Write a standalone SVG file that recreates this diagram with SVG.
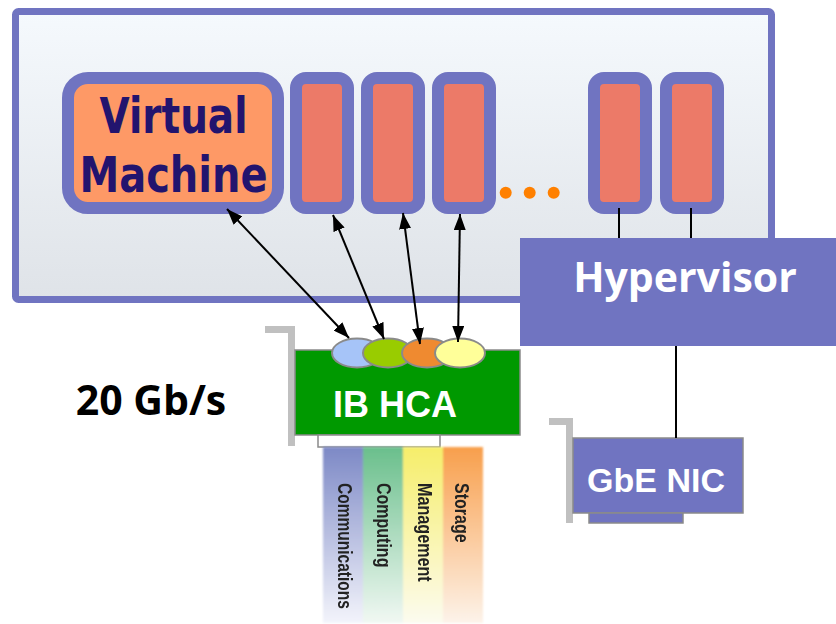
<svg xmlns="http://www.w3.org/2000/svg" width="836" height="624" viewBox="0 0 836 624">
<defs>
<linearGradient id="bg" x1="0" y1="0" x2="0" y2="1">
<stop offset="0" stop-color="#f5f9fd"/><stop offset="1" stop-color="#dfe3e8"/>
</linearGradient>
<linearGradient id="gB" x1="0" y1="0" x2="0" y2="1"><stop offset="0" stop-color="#7d89c6"/><stop offset="1" stop-color="#f3f4fb"/></linearGradient>
<linearGradient id="gG" x1="0" y1="0" x2="0" y2="1"><stop offset="0" stop-color="#6abf8c"/><stop offset="1" stop-color="#f1f8f3"/></linearGradient>
<linearGradient id="gY" x1="0" y1="0" x2="0" y2="1"><stop offset="0" stop-color="#f6ee6a"/><stop offset="1" stop-color="#fcfbef"/></linearGradient>
<linearGradient id="gO" x1="0" y1="0" x2="0" y2="1"><stop offset="0" stop-color="#f89f4c"/><stop offset="1" stop-color="#fdf3ea"/></linearGradient>
<filter id="blur" x="-5%" y="-5%" width="110%" height="110%"><feGaussianBlur stdDeviation="1.3"/></filter>
<filter id="tblur"><feGaussianBlur stdDeviation="0.6"/></filter>
<marker id="ah" viewBox="0 0 16 12" refX="16" refY="6" markerWidth="16" markerHeight="12" markerUnits="userSpaceOnUse" orient="auto-start-reverse">
<path d="M0,0 L16,6 L0,12 z" fill="#000"/>
</marker>
</defs>
<style>
.vm{fill:#ec7a68;stroke:#7074c1;stroke-width:12}
.card{stroke:#8a8a8a;stroke-width:1.5}
.brk{fill:#c0c0c0}
.lab{font-family:"Liberation Sans",Arial,sans-serif;font-weight:bold;fill:#fff}
.hum{font-family:"Open Sans","DejaVu Sans",sans-serif;font-weight:bold}
.vmt{font-family:"DejaVu Sans",sans-serif;font-weight:bold;font-size:49px;fill:#22146e}
.band{font-family:"Liberation Sans",Arial,sans-serif;font-weight:bold;font-size:16px;fill:#222}
.conn{stroke:#000;stroke-width:2;fill:none}
.ell{stroke:#8a8a8a;stroke-width:2}
</style>

<g id="host">
<rect x="15.5" y="11.5" width="756" height="288" rx="3" fill="url(#bg)" stroke="#7074c1" stroke-width="7"/>
</g>

<g id="vm-main">
<rect x="68" y="78" width="210" height="130" rx="20" fill="#fe9966" stroke="#7074c1" stroke-width="12"/>
<text class="vmt" x="173.5" y="133" text-anchor="middle" textLength="148" lengthAdjust="spacingAndGlyphs">Virtual</text>
<text class="vmt" x="173.5" y="192" text-anchor="middle" textLength="188" lengthAdjust="spacingAndGlyphs">Machine</text>
</g>
<g id="vm1"><rect class="vm" x="296" y="78" width="52" height="130" rx="10"/></g>
<g id="vm2"><rect class="vm" x="367" y="78" width="52" height="130" rx="10"/></g>
<g id="vm3"><rect class="vm" x="438" y="78" width="52" height="130" rx="10"/></g>
<g id="ellipsis" fill="#ff8000">
<circle cx="505.7" cy="192.7" r="6"/><circle cx="529.7" cy="192.7" r="6"/><circle cx="553.7" cy="192.7" r="6"/>
</g>
<g id="vm4"><rect class="vm" x="594" y="78" width="52" height="130" rx="10"/></g>
<g id="vm5"><rect class="vm" x="666" y="78" width="52" height="130" rx="10"/></g>

<g id="hypervisor">
<rect x="520" y="238" width="316" height="108" fill="#7074c1"/>
<text class="hum" x="685" y="292" font-size="41" fill="#fff" text-anchor="middle">Hypervisor</text>
</g>

<g id="ib-hca">
<rect class="brk" x="265" y="326" width="30" height="7"/>
<rect class="brk" x="288" y="326" width="7" height="120"/>
<rect class="card" x="295" y="350" width="225" height="85" fill="#009900"/>
<rect class="card" x="318" y="435" width="122" height="12" fill="#fff"/>
<text class="lab" x="395" y="417" font-size="36" text-anchor="middle">IB HCA</text>
<ellipse class="ell" cx="357" cy="353" rx="25" ry="14.5" fill="#a6c4f8"/>
<ellipse class="ell" cx="388" cy="353" rx="25" ry="14.5" fill="#99cc00"/>
<ellipse class="ell" cx="427" cy="353" rx="25" ry="14.5" fill="#ef8a30"/>
<ellipse class="ell" cx="460" cy="353" rx="25" ry="14.5" fill="#ffff99"/>
</g>

<g id="rate">
<text class="hum" x="151" y="415" font-size="41" fill="#000" text-anchor="middle">20 Gb/s</text>
</g>

<g id="traffic">
<g filter="url(#blur)">
<rect x="323" y="447" width="40" height="176" fill="url(#gB)"/>
<rect x="363" y="447" width="40" height="176" fill="url(#gG)"/>
<rect x="403" y="447" width="40" height="176" fill="url(#gY)"/>
<rect x="443" y="447" width="40" height="176" fill="url(#gO)"/>
</g>
<g filter="url(#tblur)">
<text class="band" transform="translate(338,483) rotate(90) scale(0.97,1.25)">Communications</text>
<text class="band" transform="translate(377,483) rotate(90) scale(1,1.25)">Computing</text>
<text class="band" transform="translate(418,483) rotate(90) scale(1.01,1.25)">Management</text>
<text class="band" transform="translate(455,483) rotate(90) scale(1,1.25)">Storage</text>
</g>
</g>

<g id="gbe-nic">
<rect class="brk" x="549" y="418" width="24" height="7"/>
<rect class="brk" x="566" y="418" width="7" height="105"/>
<rect class="card" x="573" y="438" width="170" height="75" fill="#7074c1"/>
<rect class="card" x="589" y="513" width="94" height="10" fill="#7074c1"/>
<text class="lab" x="656" y="492" font-size="34" text-anchor="middle">GbE NIC</text>
</g>

<g id="connectors">
<line class="conn" x1="349" y1="338" x2="227" y2="209" marker-start="url(#ah)" marker-end="url(#ah)"/>
<line class="conn" x1="384" y1="339" x2="333" y2="215" marker-start="url(#ah)" marker-end="url(#ah)"/>
<line class="conn" x1="420" y1="344" x2="403" y2="213" marker-start="url(#ah)" marker-end="url(#ah)"/>
<line class="conn" x1="458" y1="342" x2="460" y2="214" marker-start="url(#ah)" marker-end="url(#ah)"/>
<line class="conn" x1="619" y1="208" x2="619" y2="238"/>
<line class="conn" x1="691" y1="208" x2="691" y2="238"/>
<line class="conn" x1="676" y1="346" x2="676" y2="438"/>
</g>
</svg>
